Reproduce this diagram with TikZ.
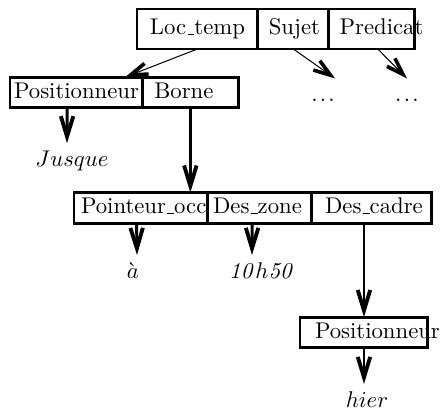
\documentclass[tikz,border=0pt]{standalone}
\usetikzlibrary{positioning,calc,arrows.meta}
\newcommand{\undsc}{\leavevmode\kern.06em\vbox{\hrule width.3em}}

\begin{document}
\begin{tikzpicture}[
				x=0.44pt, y=-0.44pt,
				cell/.style={draw, line width=1.3pt, outer sep=0pt, inner ysep=0pt, minimum height=13.6pt, text height=7pt, text depth=2pt, execute at begin node={\hbox to #1\bgroup}, execute at end node={\hss\egroup}},
				word/.style={anchor=base, inner sep=3pt},
				etc/.style={anchor=base, inner sep=0pt, text height=9.7pt},
				arrow/.style={-{Straight Barb[length=9pt, width=5.5pt, line width'=1.7pt]}, line width=1.3pt},
				link/.style={-{Straight Barb[length=7.5pt, width=5pt, line width'=1.6pt]}, line width=0.45pt}
				]
				\useasboundingbox (0,0) rectangle (440,409);
				% Cellules
				\node[cell=41.8pt, inner xsep=5.7pt, minimum height=17.6pt, anchor=west] (loc) at (137,29) {Loc\undsc temp};
				\node[cell=21.6pt, inner xsep=4.8pt, minimum height=17.6pt, right=0pt of loc] (sujet) {Sujet};
				\node[cell=28.2pt, inner xsep=4.8pt, minimum height=17.6pt, right=0pt of sujet] (pred) {Predicat};
				
				\node[cell=54.6pt, inner xsep=1.8pt, anchor=west] (posit) at (10,92.5) {Positionneur};
				\node[cell=31.7pt, inner xsep=5.3pt, right=0pt of posit] (borne) {Borne};
				
				\node[cell=52.4pt, inner xsep=3.1pt, anchor=west] (pointeur) at (74,208) {Pointeur\undsc occ};
				\node[cell=40.5pt, inner xsep=2.6pt, right=0pt of pointeur] (deszone) {Des\undsc zone};
				\node[cell=40.5pt, inner xsep=6.2pt, right=0pt of deszone] (descadre) {Des\undsc cadre};
				
				\node[cell=43.1pt, inner xsep=6.6pt, anchor=west] (posit2) at (300,332.5) {Positionneur};
				
				% Valeurs
				\node[etc] (dots1) at (323,101) {.\kern1pt.\kern1pt.};
				\node[etc] (dots2) at (407,101) {.\kern1pt.\kern1pt.};
				\node[word] (jusque) at (72,166) {$Jusque$};
				\node[word] (a) at (133,278) {$\grave{a}$};
				\node[word] (heure) at (262,278) {$\mathit{10}h\mathit{50}$};
				\node[word] (hier) at (367,407) {$hier$};
				
				% Fleches
				\draw[link] (loc.south) -- ($(posit.north east)+(-17,0)$);
				\draw[link] (sujet.south) -- (dots1.north east);
				\draw[link] ($(pred.south)+(6,0)$) -- (dots2.north);
				\draw[arrow] ($(posit.south)+(-9,0)$) -- ($(jusque.north)+(-5,0)$);
				\draw[arrow] (borne.south) -- (borne.south |- pointeur.north);
				\draw[arrow] ($(pointeur.south)+(-4,0)$) -- ($(a.north)+(4,0)$);
				\draw[arrow] ($(deszone.south)+(-7,0)$) -- ($(heure.north)+(-10,0)$);
				\draw[arrow] (descadre.south -| posit2.north) -- (posit2.north);
				\draw[arrow] (posit2.south) -- (posit2.south |- hier.north);
			\end{tikzpicture}
\end{document}
